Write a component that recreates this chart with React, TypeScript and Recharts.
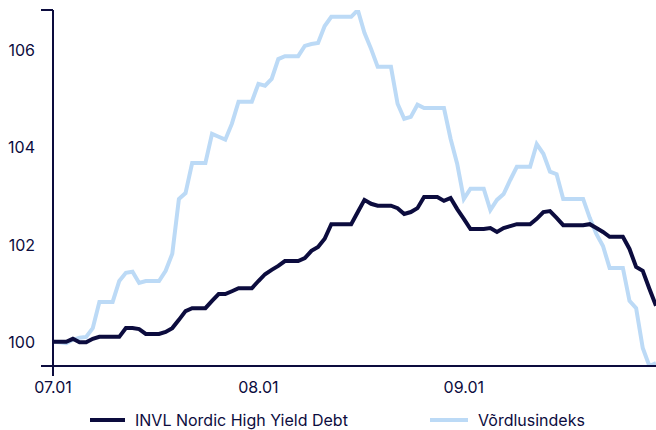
import React from 'react';
import { LineChart, Line, XAxis, YAxis, Legend } from 'recharts';

const dates = [
  '07.01','07.02','07.03','07.04','07.05','07.06','07.07','07.08','07.09','07.10',
  '07.11','07.12','07.13','07.14','07.15','07.16','07.17','07.18','07.19','07.20',
  '07.21','07.22','07.23','07.24','07.25','07.26','07.27','07.28','07.29','07.30','07.31',
  '08.01','08.02','08.03','08.04','08.05','08.06','08.07','08.08','08.09','08.10',
  '08.11','08.12','08.13','08.14','08.15','08.16','08.17','08.18','08.19','08.20',
  '08.21','08.22','08.23','08.24','08.25','08.26','08.27','08.28','08.29','08.30','08.31',
  '09.01','09.02','09.03','09.04','09.05','09.06','09.07','09.08','09.09','09.10',
  '09.11','09.12','09.13','09.14','09.15','09.16','09.17','09.18','09.19','09.20',
  '09.21','09.22','09.23','09.24','09.25','09.26','09.27','09.28','09.29','09.30',
];

const invlValues = [
  100.00, 100.00, 100.00, 100.06, 99.99, 99.99, 100.06, 100.10, 100.10, 100.10,
  100.10, 100.28, 100.28, 100.26, 100.16, 100.16, 100.16, 100.20, 100.28, 100.45,
  100.63, 100.69, 100.69, 100.69, 100.84, 100.98, 100.98, 101.04, 101.10, 101.10, 101.10,
  101.25, 101.39, 101.48, 101.56, 101.66, 101.66, 101.66, 101.72, 101.87, 101.95,
  102.12, 102.42, 102.42, 102.42, 102.42, 102.67, 102.92, 102.84, 102.80, 102.80,
  102.80, 102.75, 102.63, 102.67, 102.75, 102.98, 102.98, 102.98, 102.90, 102.96, 102.73,
  102.53, 102.32, 102.32, 102.32, 102.34, 102.26, 102.34, 102.38, 102.42, 102.42,
  102.42, 102.53, 102.67, 102.69, 102.55, 102.40, 102.40, 102.40, 102.40, 102.42,
  102.34, 102.26, 102.16, 102.16, 102.16, 101.91, 101.54, 101.46, 101.09, 100.74,
];

const indexValues = [
  100.00, 99.99, 99.97, 100.04, 100.08, 100.10, 100.28, 100.82, 100.82, 100.82,
  101.25, 101.42, 101.44, 101.21, 101.25, 101.25, 101.25, 101.46, 101.81, 102.94,
  103.06, 103.68, 103.68, 103.68, 104.28, 104.22, 104.16, 104.49, 104.94, 104.94, 104.94,
  105.31, 105.27, 105.41, 105.82, 105.88, 105.88, 105.88, 106.09, 106.13, 106.15,
  106.50, 106.69, 106.69, 106.69, 106.69, 106.83, 106.36, 106.03, 105.66, 105.66,
  105.66, 104.90, 104.59, 104.63, 104.88, 104.81, 104.81, 104.81, 104.81, 104.18, 103.66,
  102.94, 103.15, 103.15, 103.15, 102.71, 102.92, 103.04, 103.33, 103.60, 103.60,
  103.60, 104.07, 103.87, 103.50, 103.45, 102.94, 102.94, 102.94, 102.94, 102.55,
  102.22, 101.97, 101.52, 101.52, 101.52, 100.84, 100.69, 99.87, 99.50, 99.56,
];

const yTicks = [100, 102, 104, 106];
const xTicks = ['07.01', '08.01', '09.01'];
const seriesNames = ['INVL Nordic High Yield Debt', 'Võrdlusindeks'];

const NAVY = '#0c0c3e';
const LIGHT = '#bcdaf6';
const FONT = 'Inter, "Noto Sans", sans-serif';

const data = dates.map((d, i) => ({ date: d, invl: invlValues[i], index: indexValues[i] }));
const allValues = [...invlValues, ...indexValues];
const yMin = Math.min(...allValues);
const yMax = Math.max(...allValues);

const YTick = (props: any) => {
  const { x, y, payload } = props;
  const v = payload.value;
  if (v === yMin || v === yMax) {
    return <line x1={x - 12} x2={x} y1={y} y2={y} stroke={NAVY} strokeWidth={2} />;
  }
  return (
    <text x={x - 18} y={y} dy={6} textAnchor="end" fill={NAVY} fontSize={16} fontFamily={FONT}>
      {v}
    </text>
  );
};

const XTick = (props: any) => {
  const { x, y, payload } = props;
  return (
    <g>
      {payload.value === xTicks[0] && (
        <line x1={x} x2={x} y1={y} y2={y + 10} stroke={NAVY} strokeWidth={2} />
      )}
      <text x={x} y={y + 27} textAnchor="middle" fill={NAVY} fontSize={16} fontFamily={FONT}>
        {payload.value}
      </text>
    </g>
  );
};

const legendItems = [
  { name: seriesNames[0], color: NAVY, left: 90, lineWidth: 35 },
  { name: seriesNames[1], color: LIGHT, left: 430, lineWidth: 38 },
];

const LegendBox = () => (
  <div style={{ position: 'relative', height: 20, width: 656 }}>
    {legendItems.map((it) => (
      <div
        key={it.name}
        style={{ position: 'absolute', left: it.left, top: 0, height: 20, display: 'flex', alignItems: 'center' }}
      >
        <span style={{ display: 'inline-block', width: it.lineWidth, height: 4, background: it.color }} />
        <span
          style={{
            marginLeft: 10,
            fontFamily: FONT,
            fontSize: 16,
            color: NAVY,
            lineHeight: '20px',
            whiteSpace: 'nowrap',
          }}
        >
          {it.name}
        </span>
      </div>
    ))}
  </div>
);

export default function App() {
  return (
    <div style={{ position: 'absolute', left: 0, top: 0, width: 656, height: 430, background: '#fff' }}>
      <LineChart width={656} height={430} data={data} margin={{ top: 10, right: 0, left: 0, bottom: 0 }}>
        <XAxis
          dataKey="date"
          ticks={xTicks}
          interval={0}
          tickSize={0}
          tickMargin={0}
          tickLine={false}
          height={44}
          axisLine={{ stroke: NAVY, strokeWidth: 2 }}
          tick={<XTick />}
        />
        <YAxis
          type="number"
          domain={[yMin, yMax]}
          ticks={[yMin, ...yTicks, yMax]}
          interval={0}
          width={53}
          tickSize={0}
          tickMargin={0}
          tickLine={false}
          axisLine={{ stroke: NAVY, strokeWidth: 2 }}
          tick={<YTick />}
          allowDataOverflow
        />
        <Legend verticalAlign="bottom" content={() => <LegendBox />} wrapperStyle={{ left: 0, bottom: 0 }} />
        <Line
          type="linear"
          dataKey="index"
          name={seriesNames[1]}
          stroke={LIGHT}
          strokeWidth={4}
          dot={false}
          activeDot={false}
          isAnimationActive={false}
        />
        <Line
          type="linear"
          dataKey="invl"
          name={seriesNames[0]}
          stroke={NAVY}
          strokeWidth={4}
          dot={false}
          activeDot={false}
          isAnimationActive={false}
        />
      </LineChart>
    </div>
  );
}
